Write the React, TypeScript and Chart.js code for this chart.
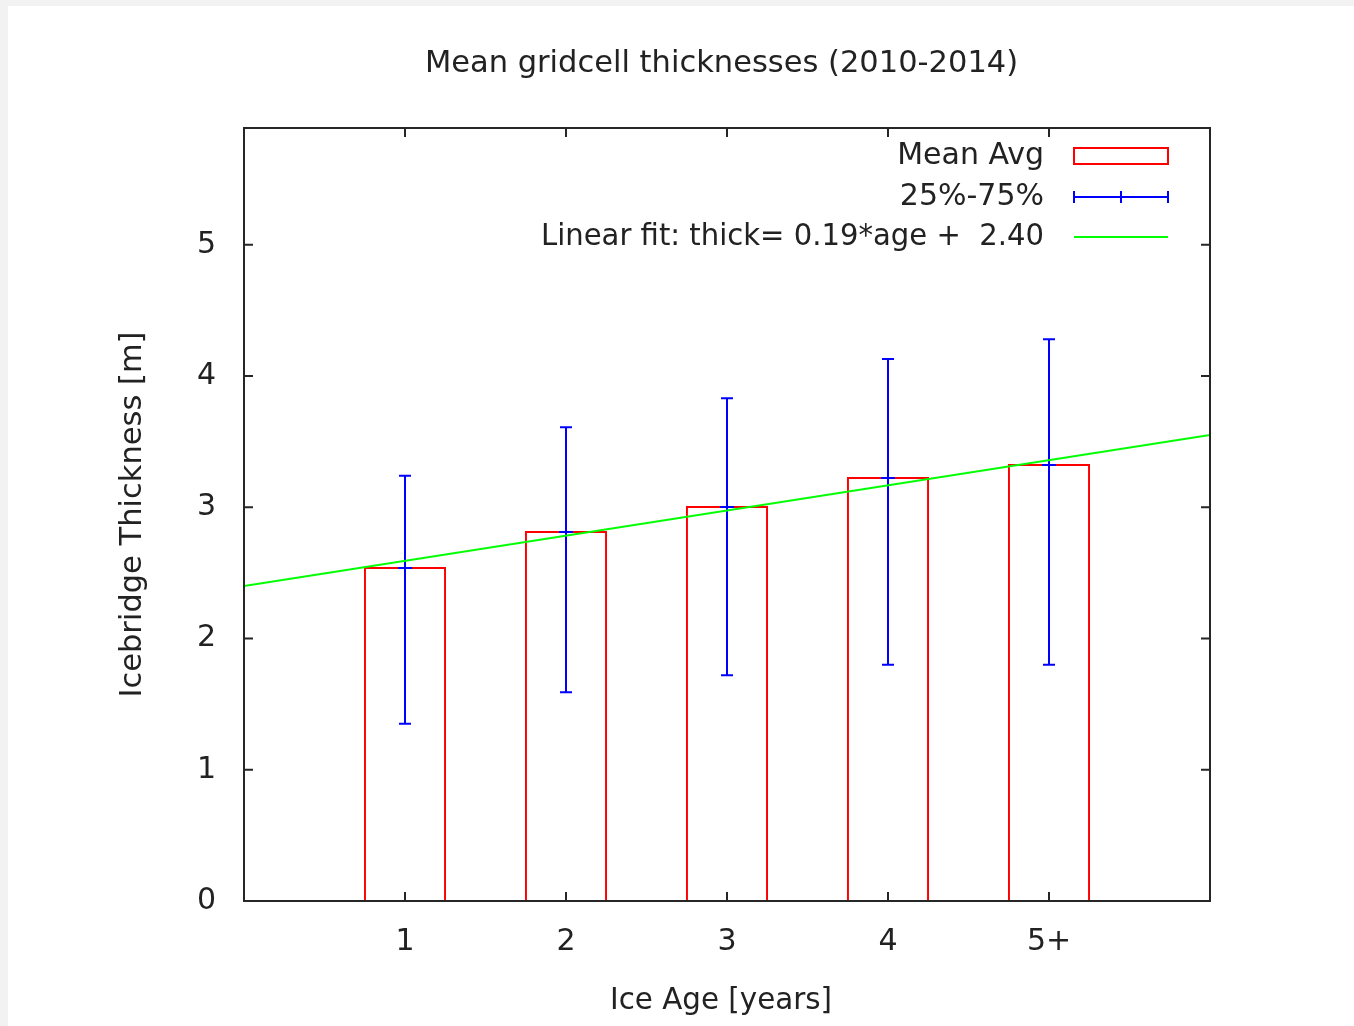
import React, { useEffect, useRef } from "react";
import { Chart, registerables } from "chart.js";

Chart.register(...registerables);

// ---- data ----
const ageLabels = ["1", "2", "3", "4", "5+"];
const agePositions = [1, 2, 3, 4, 5];
const meanThickness = [2.545, 2.82, 3.01, 3.23, 3.33];
const q25Thickness = [1.35, 1.59, 1.72, 1.8, 1.8];
const q75Thickness = [3.24, 3.61, 3.83, 4.13, 4.28];
const fitAge = [0, 6];
const fitThickness = [2.4, 3.55];
const yTickValues = [0, 1, 2, 3, 4, 5];

const titleText = "Mean gridcell thicknesses (2010-2014)";
const xTitleText = "Ice Age [years]";
const yTitleText = "Icebridge Thickness [m]";
const legendLabels = ["Mean Avg", "25%-75%", "Linear fit: thick= 0.19*age +  2.40"];

const FONT = "'DejaVu Sans', sans-serif";
const TEXT = "#222222";
const RED = "#ff0000";
const BLUE = "#0000ff";
const GREEN = "#00ff00";

const decorPlugin = {
  id: "gnuplotDecor",
  afterDatasetDraw(chart: any, args: any) {
    if (args.meta.type !== "bar") return;
    const { ctx, scales } = chart;
    const xs = scales.x;
    const ys = scales.y;
    ctx.save();
    ctx.strokeStyle = BLUE;
    ctx.lineWidth = 2;
    agePositions.forEach((a, i) => {
      const px = xs.getPixelForValue(a);
      const top = ys.getPixelForValue(q75Thickness[i]);
      const bot = ys.getPixelForValue(q25Thickness[i]);
      const mid = ys.getPixelForValue(meanThickness[i]) + 1;
      ctx.beginPath();
      ctx.moveTo(px, top);
      ctx.lineTo(px, bot);
      ctx.moveTo(px - 6, top);
      ctx.lineTo(px + 6, top);
      ctx.moveTo(px - 6, bot);
      ctx.lineTo(px + 6, bot);
      ctx.moveTo(px - 7, mid);
      ctx.lineTo(px + 7, mid);
      ctx.stroke();
    });
    ctx.restore();
  },
  afterDraw(chart: any) {
    const { ctx, chartArea, scales } = chart;
    const { left, right, top, bottom } = chartArea;
    const xs = scales.x;
    const ys = scales.y;
    ctx.save();
    // border
    ctx.strokeStyle = "#262626";
    ctx.lineWidth = 2;
    ctx.strokeRect(left, top, right - left, bottom - top);
    // inward ticks, mirrored
    const tl = 9;
    ctx.beginPath();
    agePositions.forEach((a) => {
      const px = xs.getPixelForValue(a);
      ctx.moveTo(px, bottom);
      ctx.lineTo(px, bottom - tl);
      ctx.moveTo(px, top);
      ctx.lineTo(px, top + tl);
    });
    yTickValues.forEach((v) => {
      const py = ys.getPixelForValue(v);
      ctx.moveTo(left, py);
      ctx.lineTo(left + tl, py);
      ctx.moveTo(right, py);
      ctx.lineTo(right - tl, py);
    });
    ctx.stroke();

    // titles
    ctx.fillStyle = TEXT;
    ctx.font = `30.5px ${FONT}`;
    ctx.textAlign = "center";
    ctx.textBaseline = "middle";
    ctx.fillText(titleText, 713.5, 58);
    ctx.fillText(xTitleText, 713, 995, 222);
    ctx.save();
    ctx.translate(125, (top + bottom) / 2);
    ctx.rotate(-Math.PI / 2);
    ctx.fillText(yTitleText, 0, 0);
    ctx.restore();

    // legend
    ctx.font = `30px ${FONT}`;
    const rows = [150, 191, 231];
    const textRight = 1036;
    const symL = 1066;
    const symR = 1160;
    const maxW = [150, 146, 503];
    ctx.textAlign = "right";
    legendLabels.forEach((lab, i) => ctx.fillText(lab, textRight, rows[i], maxW[i]));
    ctx.strokeStyle = RED;
    ctx.lineWidth = 2;
    ctx.strokeRect(symL, rows[0] - 8, symR - symL, 16);
    ctx.strokeStyle = BLUE;
    ctx.beginPath();
    ctx.moveTo(symL, rows[1]);
    ctx.lineTo(symR, rows[1]);
    ctx.moveTo(symL, rows[1] - 6);
    ctx.lineTo(symL, rows[1] + 6);
    ctx.moveTo(symR, rows[1] - 6);
    ctx.lineTo(symR, rows[1] + 6);
    const midX = (symL + symR) / 2;
    ctx.moveTo(midX, rows[1] - 6);
    ctx.lineTo(midX, rows[1] + 6);
    ctx.stroke();
    ctx.strokeStyle = GREEN;
    ctx.beginPath();
    ctx.moveTo(symL, rows[2]);
    ctx.lineTo(symR, rows[2]);
    ctx.stroke();
    ctx.restore();
  },
};

export default function App() {
  const ref = useRef<HTMLCanvasElement>(null);
  useEffect(() => {
    if (!ref.current) return;
    const chart = new Chart(ref.current, {
      data: {
        datasets: [
          {
            type: "line",
            label: legendLabels[2],
            data: fitAge.map((a, i) => ({ x: a, y: fitThickness[i] })),
            borderColor: GREEN,
            borderWidth: 2,
            pointRadius: 0,
            fill: false,
          },
          {
            type: "bar",
            label: legendLabels[0],
            data: agePositions.map((a, i) => ({ x: a, y: meanThickness[i] })),
            borderColor: RED,
            borderWidth: 2,
            backgroundColor: "rgba(0,0,0,0)",
            borderSkipped: "bottom",
            barPercentage: 0.51,
            categoryPercentage: 1,
          },
        ],
      } as any,
      options: {
        responsive: false,
        animation: false,
        layout: { padding: { left: 0, right: 144, top: 122, bottom: 0 } },
        plugins: { legend: { display: false }, title: { display: false }, tooltip: { enabled: false } },
        scales: {
          x: {
            type: "linear",
            min: 0,
            max: 6,
            offset: false,
            grid: { display: false, drawTicks: false },
            border: { display: false },
            afterBuildTicks: (s: any) => {
              s.ticks = agePositions.map((v) => ({ value: v }));
            },
            afterFit: (s: any) => {
              s.height = 125;
            },
            ticks: {
              color: TEXT,
              font: { family: FONT, size: 30 },
              padding: 23,
              maxRotation: 0,
              callback: (_v: any, i: number) => ageLabels[i],
            },
          },
          y: {
            type: "linear",
            min: 0,
            max: 5.89,
            grid: { display: false, drawTicks: false },
            border: { display: false },
            afterBuildTicks: (s: any) => {
              s.ticks = yTickValues.map((v) => ({ value: v }));
            },
            afterFit: (s: any) => {
              s.width = 236;
            },
            ticks: {
              color: TEXT,
              font: { family: FONT, size: 30 },
              padding: 28,
              callback: (v: any) => String(v),
            },
          },
        },
      } as any,
      plugins: [decorPlugin],
    });
    return () => chart.destroy();
  }, []);

  return (
    <div style={{ position: "fixed", left: 0, top: 0, width: 1354, height: 1026, background: "#f2f2f2" }}>
      <div style={{ position: "absolute", left: 8, top: 6, width: 1346, height: 1020, background: "#ffffff" }}>
        <canvas ref={ref} width={1346} height={1020} style={{ display: "block" }} />
      </div>
    </div>
  );
}
